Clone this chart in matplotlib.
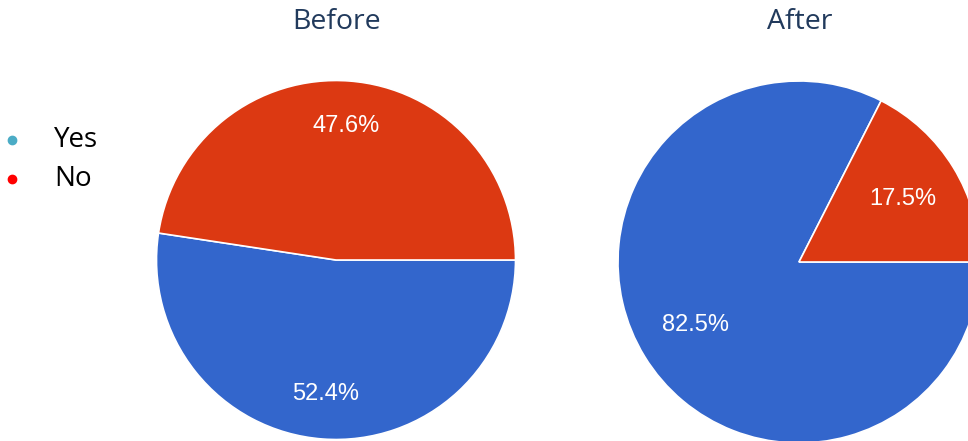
import matplotlib
matplotlib.use('Agg')
import matplotlib.pyplot as plt

# survey answers, before and after
titles = ['Before', 'After']
answers = ['Yes', 'No']
before = [52.4, 47.6]
after = [82.5, 17.5]

pie_colors = ['#3366cc', '#dc3912']
legend_colors = ['#4bacc6', '#ff0000']
title_color = '#213a5c'

W, H = 968, 441
fig = plt.figure(figsize=(W / 100, H / 100), dpi=100)
ax = fig.add_axes([0, 0, 1, 1])

centers = [(336, H - 260), (799, H - 262)]
radii = [179.5, 181]
pct_dist = [0.75, 0.67]

for i, vals in enumerate([before, after]):
    cx, cy = centers[i]
    ax.pie(vals, colors=pie_colors, startangle=0, counterclock=False,
           center=(cx, cy), radius=radii[i],
           autopct='%.1f%%', pctdistance=pct_dist[i],
           wedgeprops=dict(edgecolor='white', linewidth=1.2),
           textprops=dict(color='white', fontsize=17, family='Liberation Sans'))
    ax.text(cx + 1, H - 22, titles[i], ha='center', va='center',
            fontsize=20.5, family='Open Sans', color=title_color)

# bullet-style legend on the left
for j, name in enumerate(answers):
    y = H - (140 + 39 * j)
    ax.plot([12], [y], 'o', color=legend_colors[j], markersize=6)
    ax.text(54, y, name, ha='left', va='center', fontsize=20,
            family='Open Sans', color='black')

ax.set_xlim(0, W)
ax.set_ylim(0, H)
ax.set_aspect('auto')
ax.axis('off')

fig.savefig('out.png', dpi=100)
